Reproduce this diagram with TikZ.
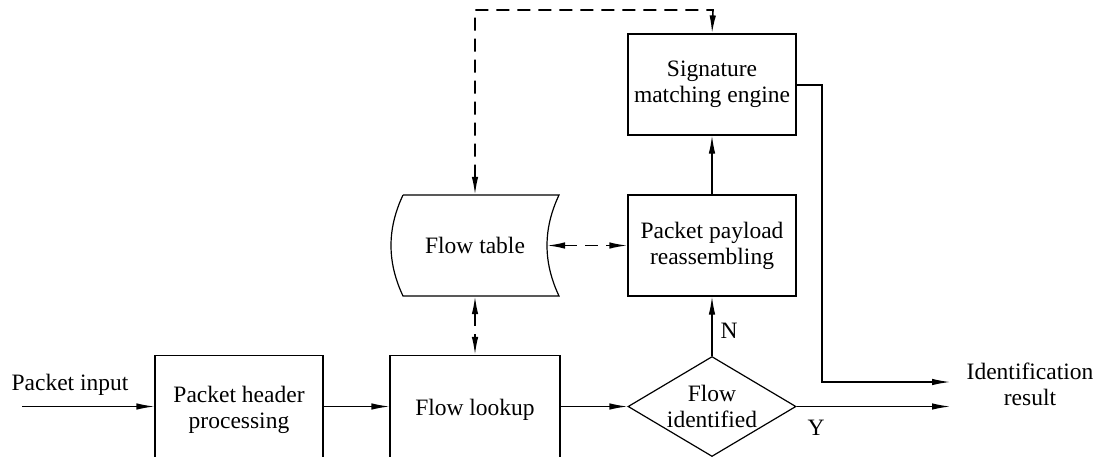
\documentclass[tikz,border=0pt]{standalone}
\usepackage{fontspec}
\setmainfont{Liberation Serif}
\usetikzlibrary{arrows.meta,shapes.geometric}
\begin{document}
\begin{tikzpicture}[x=1pt,y=-1pt,
  every node/.style={font=\fontsize{23.5}{26}\selectfont, align=center, inner sep=0pt},
  boxnode/.style={draw, line width=1.2pt, minimum width=168pt, minimum height=101pt},
  decnode/.style={draw, line width=1.2pt, diamond, aspect=1.68, minimum width=168pt, minimum height=100pt},
  conn/.style={line width=1.2pt, -{Latex[length=18pt,width=6.5pt]}},
  dconn/.style={conn, line width=1.6pt, dash pattern=on 13pt off 8pt},
  ddconn/.style={dconn, {Latex[length=18pt,width=6.5pt]}-{Latex[length=18pt,width=6.5pt]}},
  lbl/.style={}]
\useasboundingbox (0,0) rectangle (1102,456);
% nodes
\node[boxnode, minimum height=108pt] (hp) at (239,409.5) {Packet header\\processing};
\node[boxnode, minimum width=170pt, minimum height=108pt] (fl) at (475,409.5) {Flow lookup};
\node[decnode] (fi) at (712,406.5) {Flow\\identified};
\node[boxnode] (pr) at (712,245.5) {Packet payload\\reassembling};
\node[boxnode] (sm) at (712,84.5) {Signature\\matching engine};
\node[minimum width=156pt, minimum height=101pt] (ft) at (475,245.5) {Flow table};
% flow table shape
\coordinate (ftA) at (403,195);
\coordinate (ftB) at (559,195);
\coordinate (ftC) at (559,296);
\coordinate (ftD) at (403,296);
\coordinate (ftR) at (547,245.5);
\draw[line width=1.2pt] (ftA) -- (ftB) .. controls (543,229) and (543,262) .. (ftC) -- (ftD) .. controls (387,262) and (387,229) .. (ftA);
% labels
\node[lbl] (pin) at (70,385) {Packet input};
\node[lbl] (res) at (1030,384) {Identification\\result};
\node[lbl] (nl) at (729,331) {N};
\node[lbl] (yl) at (816,428) {Y};
% coordinates
\coordinate (in0) at (22,406.5);
\coordinate (o1) at (950,382);
\coordinate (o2) at (950,406.5);
\coordinate (c1) at (822,85);
\coordinate (c2) at (822,382);
\coordinate (t1) at (475,10);
\coordinate (t2) at (713,10);
% connectors
\draw[conn] (in0) -- (hp.west |- in0);
\draw[conn] (hp.east |- in0) -- (fl.west |- in0);
\draw[conn] (fl.east |- in0) -- (fi.west);
\draw[conn] (fi.east) -- (o2);
\draw[conn] (fi.north) -- (pr.south);
\draw[conn] (pr.north) -- (sm.south);
\draw[conn] (sm.east |- c1) -- (c1) -- (c2) -- (o1);
\draw[ddconn] (ftR) -- (pr.west);
\draw[ddconn] (ft.south) -- (fl.north);
\draw[ddconn] (ft.north) -- (t1) -- (t2) -- (sm.north);
\end{tikzpicture}
\end{document}
